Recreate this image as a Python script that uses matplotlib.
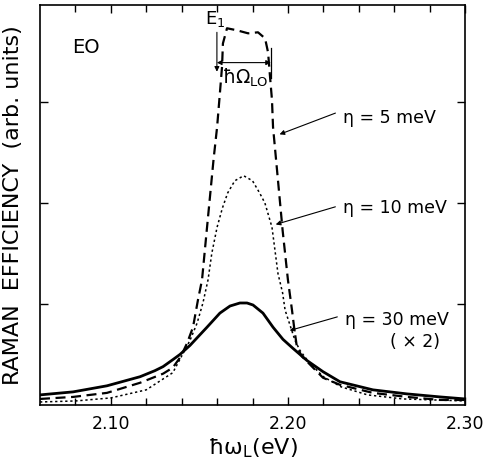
import matplotlib
matplotlib.use("Agg")
import matplotlib.pyplot as plt

plt.rcParams['font.family'] = ['DejaVu Sans']
plt.rcParams['mathtext.fontset'] = 'dejavusans'

# eta = 5 meV (dashed)
x5 = [2.060, 2.0787, 2.0978, 2.1165, 2.1295, 2.135, 2.1395, 2.143, 2.1464, 2.1492,
      2.1515, 2.154, 2.158, 2.160, 2.1616, 2.1628, 2.1633, 2.1656, 2.1712, 2.1775,
      2.1831, 2.1871, 2.1888, 2.1899, 2.191, 2.1916, 2.1933, 2.197, 2.200, 2.2023,
      2.2035, 2.2051, 2.208, 2.2125, 2.2198, 2.2294, 2.248, 2.2672, 2.2859, 2.300]
y5 = [0.06, 0.08, 0.12, 0.22, 0.31, 0.37, 0.48, 0.61, 0.77, 1.04,
      1.24, 1.70, 2.43, 2.75, 3.09, 3.35, 3.58, 3.73, 3.71, 3.68,
      3.69, 3.63, 3.49, 3.25, 3.02, 2.75, 2.43, 1.73, 1.24, 0.94,
      0.77, 0.57, 0.48, 0.40, 0.27, 0.20, 0.12, 0.08, 0.05, 0.05]

# eta = 10 meV (dotted)
x10 = [2.060, 2.080, 2.100, 2.120, 2.135, 2.1447, 2.1487, 2.152, 2.1549, 2.157,
       2.160, 2.163, 2.166, 2.170, 2.175, 2.180, 2.184, 2.187, 2.191, 2.1944,
       2.197, 2.1984, 2.204, 2.2068, 2.212, 2.220, 2.230, 2.245, 2.265, 2.300]
y10 = [0.03, 0.04, 0.07, 0.15, 0.32, 0.64, 0.81, 1.01, 1.24, 1.50,
       1.76, 1.95, 2.10, 2.22, 2.27, 2.22, 2.10, 2.00, 1.76, 1.30,
       1.11, 0.94, 0.64, 0.54, 0.42, 0.28, 0.18, 0.10, 0.06, 0.04]

# eta = 30 meV (x2) (solid)
x30 = [2.060, 2.0787, 2.0978, 2.1165, 2.1249, 2.1295, 2.1351, 2.139, 2.1447, 2.1543,
       2.1616, 2.1673, 2.1729, 2.1769, 2.1803, 2.1859, 2.1916, 2.1972, 2.2029, 2.2108,
       2.2198, 2.2294, 2.248, 2.2672, 2.2859, 2.300]
y30 = [0.10, 0.13, 0.19, 0.28, 0.34, 0.38, 0.45, 0.50, 0.59, 0.77,
       0.91, 0.98, 1.01, 1.01, 0.99, 0.91, 0.77, 0.65, 0.56, 0.44,
       0.33, 0.23, 0.15, 0.11, 0.08, 0.06]

labels = ["η = 5 meV", "η = 10 meV", "η = 30 meV"]
xticks_major = [2.10, 2.20, 2.30]
xtick_labels = ["2.10", "2.20", "2.30"]
xticks_minor = [2.08, 2.12, 2.14, 2.16, 2.18, 2.22, 2.24, 2.26, 2.28]

fig = plt.figure(figsize=(4.84, 4.70), dpi=100)
ax = fig.add_axes([40/484, 65/470, 425/484, 400/470])

ax.plot(x5, y5, color='black', lw=1.6, ls=(0, (4.5, 2.5)))
ax.plot(x10, y10, color='black', lw=1.1, ls=(0, (1.5, 1.8)))
ax.plot(x30, y30, color='black', lw=2.0, ls='-')

ax.set_xlim(2.06, 2.30)
ax.set_ylim(0, 400/101)
ax.set_xticks(xticks_major)
ax.set_xticklabels(xtick_labels)
ax.set_xticks(xticks_minor, minor=True)
ax.set_yticks([1, 2, 3])
ax.set_yticklabels([])
ax.tick_params(which='major', direction='in', top=True, right=True, length=6, width=1.0,
               labelsize=12.5, pad=7)
ax.tick_params(which='minor', direction='in', top=True, right=True, length=5, width=1.0)
for s in ax.spines.values():
    s.set_linewidth(1.2)

ax.set_xlabel("ħω$_\\mathrm{L}$(eV)", fontsize=16, labelpad=3)
ax.set_ylabel("RAMAN  EFFICIENCY  (arb. units)", fontsize=16, labelpad=5)

ax.text(2.0781, 3.54, "EO", fontsize=14, va='center', ha='left')

ax.text(2.2311, 2.84, labels[0], fontsize=12.5, va='center', ha='left')
ax.annotate("", xy=(2.1938, 2.67), xytext=(2.2283, 2.90),
            arrowprops=dict(arrowstyle='-|>', color='black', lw=0.8, mutation_scale=7))
ax.text(2.2311, 1.95, labels[1], fontsize=12.5, va='center', ha='left')
ax.annotate("", xy=(2.1916, 1.78), xytext=(2.2283, 1.97),
            arrowprops=dict(arrowstyle='-|>', color='black', lw=0.8, mutation_scale=7))
ax.text(2.2322, 0.84, labels[2], fontsize=12.5, va='center', ha='left')
ax.annotate("", xy=(2.1995, 0.73), xytext=(2.2294, 0.88),
            arrowprops=dict(arrowstyle='-|>', color='black', lw=0.8, mutation_scale=7))
ax.text(2.2576, 0.62, "( × 2)", fontsize=12.5, va='center', ha='left')

# E1 and hbar Omega_LO
ax.text(2.1532, 3.82, "E$_1$", fontsize=13, va='center', ha='left')
ax.annotate("", xy=(2.1599, 3.30), xytext=(2.1599, 3.69),
            arrowprops=dict(arrowstyle='-|>', color='black', lw=0.8, mutation_scale=7,
                            shrinkA=0, shrinkB=0))
ax.plot([2.1904, 2.1904], [3.24, 3.53], color='black', lw=0.9)
ax.annotate("", xy=(2.1599, 3.39), xytext=(2.1904, 3.39),
            arrowprops=dict(arrowstyle='<|-|>', color='black', lw=0.8, mutation_scale=7,
                            shrinkA=0, shrinkB=0))
ax.text(2.1628, 3.24, "ħΩ$_\\mathrm{LO}$", fontsize=13.5, va='center', ha='left')

fig.savefig("out.png", dpi=100)
